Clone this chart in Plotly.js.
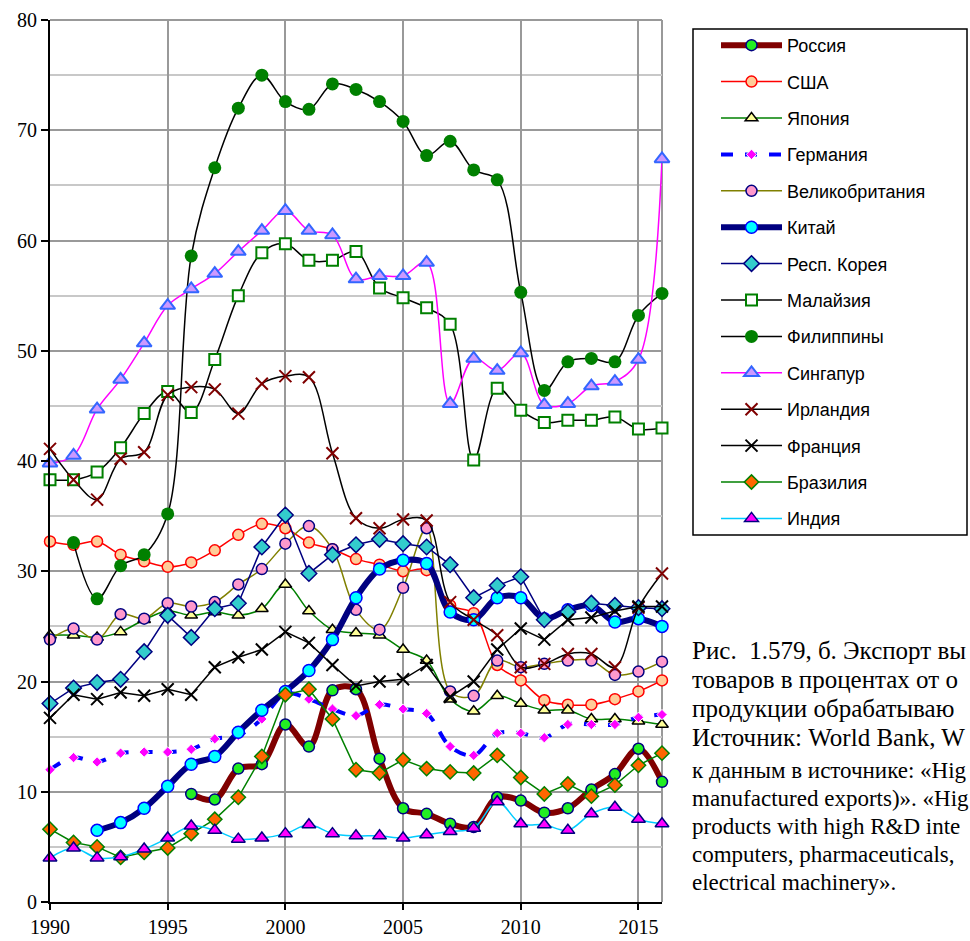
<!DOCTYPE html>
<html>
<head>
<meta charset="utf-8">
<script src="https://cdn.plot.ly/plotly-3.0.1.min.js"></script>
<style>html,body{margin:0;padding:0;background:#fff;}#chart{width:970px;height:941px;}</style>
</head>
<body>
<div id="chart"></div>
<script>
const years = [1990,1991,1992,1993,1994,1995,1996,1997,1998,1999,2000,2001,2002,2003,2004,2005,2006,2007,2008,2009,2010,2011,2012,2013,2014,2015,2016];

const russia    = [null,null,null,null,null,null,9.8,9.3,12.1,12.5,16.1,14.1,19.2,19.3,13.0,8.5,8.0,7.1,6.8,9.5,9.2,8.1,8.5,10.2,11.6,13.9,10.9];
const usa       = [32.7,32.4,32.7,31.5,30.9,30.4,30.8,31.9,33.3,34.3,33.9,32.6,32.0,31.1,30.6,30.0,30.1,26.9,26.2,21.5,20.1,18.3,17.9,17.9,18.4,19.1,20.1];
const japan     = [24.2,24.2,24.0,24.5,25.6,26.4,26.0,26.3,26.0,26.6,28.8,26.4,24.7,24.4,24.2,22.9,21.9,18.4,17.3,18.7,18.0,17.4,17.4,16.6,16.6,16.4,16.1];
const germany   = [12.0,13.1,12.7,13.5,13.6,13.6,13.85,14.8,15.1,16.6,18.9,18.4,17.5,16.9,17.9,17.5,17.1,14.1,13.3,15.3,15.3,14.9,16.1,16.1,16.1,16.75,17.0];
const uk        = [23.8,24.8,23.8,26.1,25.7,27.1,26.8,27.2,28.8,30.2,32.5,34.1,32.0,26.5,24.7,28.5,33.9,19.1,18.7,21.9,21.3,21.6,21.9,21.9,20.6,20.9,21.8];
const china     = [null,null,6.5,7.2,8.5,10.5,12.5,13.2,15.4,17.4,19.1,21.0,23.8,27.6,30.2,31.0,30.7,26.3,25.6,27.6,27.6,25.7,26.5,26.9,25.4,25.7,25.0];
const korea     = [18.0,19.4,19.9,20.2,22.7,26.0,24.0,26.6,27.1,32.2,35.1,29.8,31.5,32.4,32.9,32.5,32.2,30.6,27.6,28.7,29.5,25.6,26.3,27.1,26.9,26.7,26.6];
const malaysia  = [38.3,38.3,39.0,41.2,44.3,46.3,44.4,49.2,55.0,58.9,59.7,58.2,58.2,59.0,55.7,54.8,53.9,52.4,40.1,46.6,44.6,43.5,43.7,43.7,44.0,42.9,43.0];
const philippines = [null,32.6,27.5,30.5,31.5,35.2,58.6,66.6,72.0,75.0,72.6,71.9,74.2,73.7,72.6,70.8,67.7,69.0,66.4,65.5,55.3,46.4,49.0,49.3,49.0,53.2,55.2];
const singapore = [39.8,40.5,44.7,47.4,50.7,54.1,55.6,57.0,59.0,60.9,62.7,60.9,60.5,56.5,56.8,56.8,58.0,45.2,49.3,48.2,49.8,45.1,45.2,46.8,47.2,49.2,67.4];
const ireland   = [41.1,38.3,36.5,40.2,40.8,46.0,46.7,46.5,44.3,47.0,47.7,47.6,40.7,34.8,33.9,34.7,34.6,27.2,25.6,24.2,21.3,21.6,22.5,22.5,21.3,26.7,29.8];
const france    = [16.7,18.8,18.4,19.0,18.7,19.3,18.8,21.3,22.2,22.9,24.5,23.5,21.5,19.6,20.0,20.2,21.5,18.6,20.0,22.9,24.8,23.8,25.6,25.8,26.4,26.8,26.8];
const brazil    = [6.6,5.4,5.0,4.05,4.5,4.9,6.2,7.5,9.5,13.2,18.8,19.3,16.6,12.0,11.7,12.9,12.1,11.8,11.7,13.3,11.3,9.8,10.7,9.6,10.6,12.4,13.5];
const india     = [4.0,4.9,4.0,4.1,4.8,5.8,6.9,6.5,5.7,5.8,6.2,7.0,6.2,6.0,6.0,5.8,6.1,6.4,6.7,9.1,7.1,7.0,6.5,8.0,8.6,7.5,7.1];

const seriesNames = ["Россия","США","Япония","Германия","Великобритания","Китай","Респ. Корея","Малайзия","Филиппины","Сингапур","Ирландия","Франция","Бразилия","Индия"];
const captionLines = [
  "Рис.  1.579, б. Экспорт вы",
  "товаров в процентах от о",
  "продукции обрабатываю",
  "Источник: World Bank, W",
  "к данным в источнике: «Hig",
  "manufactured exports)». «Hig",
  "products with high R&D inte",
  "computers, pharmaceuticals,",
  "electrical machinery»."
];

const values = [russia,usa,japan,germany,uk,china,korea,malaysia,philippines,singapore,ireland,france,brazil,india];
const styles = [
  {line:{color:'#800000',width:6,shape:'spline'}, marker:{symbol:'circle',size:11,color:'#22ee22',line:{color:'#000080',width:1.5}}},
  {line:{color:'#ff0000',width:1.5,shape:'spline'}, marker:{symbol:'circle',size:11,color:'#ffcc99',line:{color:'#ff0000',width:1.5}}},
  {line:{color:'#008000',width:1.5,shape:'spline'}, marker:{symbol:'triangle-up',size:11,color:'#ffff99',line:{color:'#000000',width:1.5}}},
  {line:{color:'#0000ff',width:4,dash:'dash',shape:'spline'}, marker:{symbol:'diamond',size:8,color:'#ff00ff',line:{color:'#ffffff',width:1}}},
  {line:{color:'#808000',width:1.5,shape:'spline'}, marker:{symbol:'circle',size:11,color:'#ff99cc',line:{color:'#000080',width:1.5}}},
  {line:{color:'#000080',width:6,shape:'spline'}, marker:{symbol:'circle',size:12,color:'#00ffff',line:{color:'#0000ff',width:1.5}}},
  {line:{color:'#000080',width:1.5,shape:'linear'}, marker:{symbol:'diamond',size:12,color:'#33cccc',line:{color:'#000080',width:1.5}}},
  {line:{color:'#000000',width:1.5,shape:'spline'}, marker:{symbol:'square',size:11,color:'#ffffff',line:{color:'#008000',width:2}}},
  {line:{color:'#000000',width:1.5,shape:'spline'}, marker:{symbol:'circle',size:13,color:'#008000',line:{color:'#008000',width:0}}},
  {line:{color:'#ff00ff',width:1.5,shape:'spline'}, marker:{symbol:'triangle-up',size:13,color:'#cc99ff',line:{color:'#3366ff',width:2}}},
  {line:{color:'#000000',width:1.5,shape:'spline'}, marker:{symbol:'x-thin-open',size:12,color:'#800000',line:{color:'#800000',width:2}}},
  {line:{color:'#000000',width:1.5,shape:'linear'}, marker:{symbol:'x-thin-open',size:12,color:'#000000',line:{color:'#000000',width:2}}},
  {line:{color:'#008000',width:1.5,shape:'linear'}, marker:{symbol:'diamond',size:11,color:'#ff6600',line:{color:'#008000',width:1.5}}},
  {line:{color:'#00ccff',width:1.5,shape:'spline'}, marker:{symbol:'triangle-up',size:12,color:'#ff00ff',line:{color:'#000080',width:1.5}}}
];

const traces = seriesNames.map((n,i)=>({
  type:'scatter', mode:'lines+markers', name:n, x:years, y:values[i],
  line:styles[i].line, marker:styles[i].marker, legendgroup:'g'+i,
  connectgaps:false, cliponaxis:false
}));

const L=50, T=20, PW=612, PH=882;
const px2x = p => (p-L)/PW;
const py2y = p => (T+PH-p)/PH;

const capY = [650,679,708,737,770,798,826,854,882];
const annotations = captionLines.map((t,i)=>({
  text:t, xref:'paper', yref:'paper', x:px2x(690), y:py2y(capY[i]),
  xanchor:'left', yanchor:'middle', showarrow:false, align:'left',
  font:{family:'Liberation Serif, Times New Roman, serif', size: i<4?25:23, color:'#000'}
}));

const layout = {
  width:970, height:941,
  margin:{l:L, r:970-L-PW, t:T, b:941-T-PH, pad:0},
  paper_bgcolor:'#fff', plot_bgcolor:'#fff',
  showlegend:true,
  legend:{x:px2x(716), y:py2y(27), xanchor:'left', yanchor:'top',
    bgcolor:'rgba(0,0,0,0)', borderwidth:0, traceorder:'grouped', tracegroupgap:10,
    itemwidth:61, itemclick:false,
    font:{family:'Liberation Sans, Arial, sans-serif', size:18, color:'#000'}},
  xaxis:{range:[1990,2016], tick0:1990, dtick:5, showgrid:true, gridcolor:'#999999', gridwidth:2,
    ticks:'outside', ticklen:6, tickwidth:2, tickcolor:'#000', showline:true, linecolor:'#000', linewidth:2,
    zeroline:false, fixedrange:true,
    tickfont:{family:'Liberation Serif, Times New Roman, serif', size:20, color:'#000'}},
  yaxis:{range:[0,80], tick0:0, dtick:10, showgrid:true, gridcolor:'#999999', gridwidth:2,
    minor:{tick0:0, dtick:5, showgrid:true, gridcolor:'#c8c8c8', gridwidth:2, ticks:''},
    ticks:'outside', ticklen:7, tickwidth:2, tickcolor:'#000', showline:true, linecolor:'#000', linewidth:2,
    zeroline:false, fixedrange:true,
    tickfont:{family:'Liberation Serif, Times New Roman, serif', size:20, color:'#000'}},
  shapes:[
    {type:'line', xref:'paper', yref:'paper', x0:1, x1:1, y0:0, y1:1, line:{color:'#999999', width:2}, layer:'below'},
    {type:'line', xref:'paper', yref:'paper', x0:0, x1:1, y0:1, y1:1, line:{color:'#999999', width:2}, layer:'below'},
    {type:'rect', xref:'paper', yref:'paper', x0:px2x(693), x1:px2x(967), y0:py2y(535), y1:py2y(29), line:{color:'#000', width:1.5}, fillcolor:'rgba(0,0,0,0)'}
  ],
  annotations:annotations
};

Plotly.newPlot('chart', traces, layout, {displayModeBar:false, staticPlot:true});
</script>
</body>
</html>
